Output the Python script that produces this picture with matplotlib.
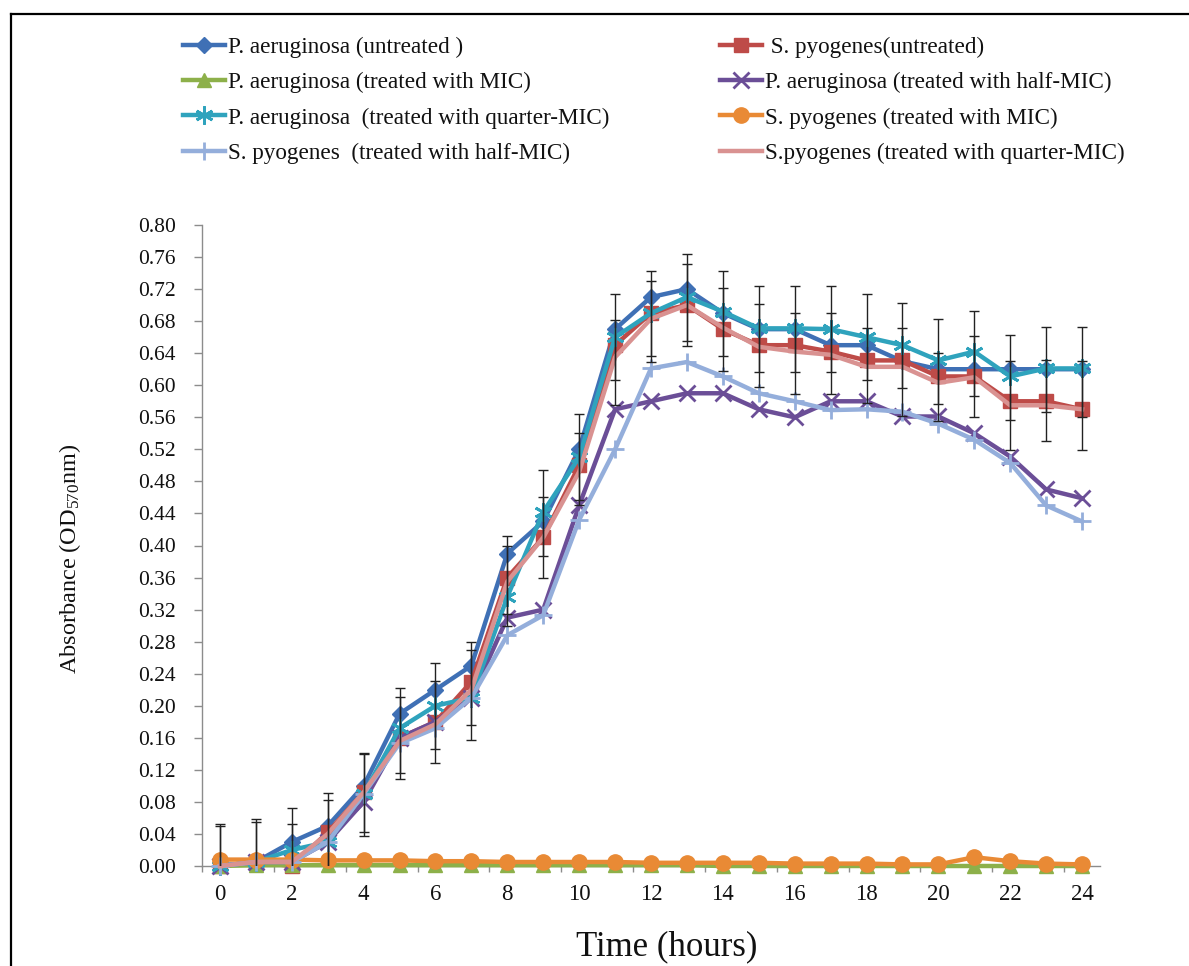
import matplotlib
matplotlib.use("Agg")
import matplotlib.pyplot as plt
from matplotlib.lines import Line2D
import numpy as np

plt.rcParams['font.family'] = ['Liberation Serif', 'DejaVu Serif']
plt.rcParams['mathtext.fontset'] = 'custom'
plt.rcParams['mathtext.rm'] = 'Liberation Serif'
plt.rcParams['mathtext.it'] = 'Liberation Serif:italic'

hours = list(range(25))
pa_untreated = [0.000, 0.005, 0.030, 0.050, 0.100, 0.190, 0.220, 0.250, 0.390, 0.430, 0.520, 0.670, 0.710,
                0.720, 0.690, 0.670, 0.670, 0.650, 0.650, 0.630, 0.620, 0.620, 0.620, 0.620, 0.620]
sp_untreated = [0.000, 0.005, 0.000, 0.042, 0.092, 0.160, 0.180, 0.230, 0.360, 0.410, 0.500, 0.650, 0.690,
                0.700, 0.670, 0.650, 0.650, 0.642, 0.631, 0.631, 0.611, 0.611, 0.580, 0.580, 0.570]
pa_mic = [0.000, 0.001, 0.001, 0.001, 0.001, 0.001, 0.001, 0.001, 0.001, 0.001, 0.001, 0.001, 0.001,
          0.001, 0.000, 0.000, 0.000, 0.000, 0.000, 0.000, 0.000, 0.000, 0.000, 0.000, 0.000]
pa_half = [0.000, 0.005, 0.005, 0.030, 0.080, 0.160, 0.180, 0.210, 0.310, 0.320, 0.450, 0.570, 0.580,
           0.590, 0.590, 0.570, 0.560, 0.580, 0.580, 0.561, 0.561, 0.540, 0.511, 0.470, 0.459]
pa_quarter = [0.000, 0.005, 0.020, 0.030, 0.090, 0.172, 0.200, 0.210, 0.336, 0.442, 0.510, 0.660, 0.690,
              0.710, 0.692, 0.671, 0.671, 0.670, 0.660, 0.650, 0.631, 0.642, 0.611, 0.621, 0.621]
sp_mic = [0.008, 0.008, 0.008, 0.007, 0.007, 0.007, 0.006, 0.006, 0.005, 0.005, 0.005, 0.005, 0.004,
          0.004, 0.004, 0.004, 0.003, 0.003, 0.003, 0.002, 0.002, 0.011, 0.006, 0.003, 0.002]
sp_half = [0.000, 0.005, 0.005, 0.030, 0.090, 0.153, 0.172, 0.210, 0.288, 0.313, 0.432, 0.520, 0.621,
           0.629, 0.611, 0.590, 0.580, 0.569, 0.570, 0.567, 0.552, 0.532, 0.503, 0.450, 0.430]
sp_quarter = [0.000, 0.005, 0.005, 0.040, 0.092, 0.156, 0.177, 0.220, 0.355, 0.410, 0.492, 0.635, 0.683,
              0.700, 0.672, 0.648, 0.642, 0.638, 0.623, 0.623, 0.603, 0.610, 0.575, 0.575, 0.570]

# error bars (lower / upper) for S. pyogenes untreated and S. pyogenes quarter-MIC
sp_untreated_err_lo = [0.053, 0.054, 0.073, 0.049, 0.055, 0.052, 0.051, 0.073, 0.060, 0.051, 0.050, 0.075,
                       0.061, 0.051, 0.052, 0.052, 0.061, 0.053, 0.053, 0.070, 0.056, 0.051, 0.061, 0.050,
                       0.051]
sp_untreated_err_hi = [0.053, 0.054, 0.073, 0.049, 0.049, 0.062, 0.073, 0.050, 0.052, 0.084, 0.064, 0.064,
                       0.053, 0.064, 0.073, 0.074, 0.074, 0.082, 0.083, 0.072, 0.072, 0.082, 0.083, 0.093,
                       0.103]
sp_quarter_err_lo = [0.050, 0.050, 0.047, 0.042, 0.050, 0.040, 0.031, 0.044, 0.040, 0.023, 0.035, 0.029,
                     0.047, 0.045, 0.036, 0.032, 0.026, 0.022, 0.017, 0.026, 0.026, 0.023, 0.018, 0.008,
                     0.010]
sp_quarter_err_hi = [0.050, 0.050, 0.047, 0.042, 0.048, 0.055, 0.054, 0.050, 0.045, 0.050, 0.048, 0.046,
                     0.047, 0.051, 0.049, 0.053, 0.048, 0.052, 0.048, 0.048, 0.037, 0.051, 0.055, 0.056,
                     0.060]

labels = ["P. aeruginosa (untreated )",
          " S. pyogenes(untreated)",
          "P. aeruginosa (treated with MIC)",
          "P. aeruginosa (treated with half-MIC)",
          "P. aeruginosa  (treated with quarter-MIC)",
          "S. pyogenes (treated with MIC)",
          "S. pyogenes  (treated with half-MIC)",
          "S.pyogenes (treated with quarter-MIC)"]

y_ticks = [0.00, 0.04, 0.08, 0.12, 0.16, 0.20, 0.24, 0.28, 0.32, 0.36, 0.40,
           0.44, 0.48, 0.52, 0.56, 0.60, 0.64, 0.68, 0.72, 0.76, 0.80]
x_tick_labels = ["0", "2", "4", "6", "8", "10", "12", "14", "16", "18", "20", "22", "24"]

W, H = 1189, 966
fig = plt.figure(figsize=(W / 100, H / 100), dpi=100)
fig.patch.set_facecolor('white')

ax_l, ax_r, ax_t, ax_b = 202, 1100, 225, 866
ax = fig.add_axes([ax_l / W, (H - ax_b) / H, (ax_r - ax_l) / W, (ax_b - ax_t) / H])

series = [
    dict(y=pa_untreated, color='#3F70B5', marker='D', ms=8.5, mew=1, mfc='#3F70B5'),
    dict(y=sp_untreated, color='#BE4B48', marker='s', ms=10.5, mew=1, mfc='#BE4B48'),
    dict(y=pa_mic, color='#8DB04A', marker='^', ms=10, mew=1, mfc='#8DB04A'),
    dict(y=pa_half, color='#6B4E97', marker='x', ms=11, mew=2, mfc='#6B4E97'),
    dict(y=pa_quarter, color='#2FA3BD', marker=(6, 2, 0), ms=13, mew=2, mfc='#2FA3BD'),
    dict(y=sp_mic, color='#E98A35', marker='o', ms=11, mew=1, mfc='#E98A35'),
    dict(y=sp_half, color='#94AEDB', marker='+', ms=13, mew=2, mfc='#94AEDB'),
    dict(y=sp_quarter, color='#D99291', marker=None, ms=0, mew=0, mfc='#D99291'),
]

handles = []
for i, s in enumerate(series):
    ln, = ax.plot(hours, s['y'], color=s['color'], lw=3.2, marker=s['marker'], ms=s['ms'],
                  mew=s['mew'], mfc=s['mfc'], mec=s['color'], clip_on=False, zorder=3 + i * 0.1,
                  label=labels[i])
    handles.append(ln)

ax.errorbar(hours, sp_untreated, yerr=[sp_untreated_err_lo, sp_untreated_err_hi], fmt='none',
            ecolor='#222222', elinewidth=1.0, capsize=3.8, capthick=1.0, zorder=5)
ax.errorbar(hours, sp_quarter, yerr=[sp_quarter_err_lo, sp_quarter_err_hi], fmt='none',
            ecolor='#222222', elinewidth=1.0, capsize=3.8, capthick=1.0, zorder=5)

ax.set_xlim(-0.5, 24.5)
ax.set_ylim(0, 0.80)
ax.set_yticks(y_ticks)
ax.set_yticklabels([f"{v:.2f}" for v in y_ticks])
ax.set_xticks(hours[::2])
ax.set_xticklabels(x_tick_labels)
ax.set_xticks(np.arange(-0.5, 24.0, 2), minor=True)

for side in ['top', 'right']:
    ax.spines[side].set_visible(False)
for side in ['left', 'bottom']:
    ax.spines[side].set_color('#8C8C8C')
    ax.spines[side].set_linewidth(1.0)

ax.tick_params(axis='y', which='major', direction='out', length=6, width=1, color='#8C8C8C',
               pad=13, labelsize=15.5, labelcolor='#111111')
ax.tick_params(axis='x', which='major', length=0, pad=13, labelsize=16.5, labelcolor='#111111')
ax.tick_params(axis='x', which='minor', direction='out', length=4, width=1, color='#8C8C8C')

ax.set_ylabel(r"Absorbance (OD$_{570}$nm)", fontsize=17.5, color='#111111')
ax.yaxis.set_label_coords(-0.1325, 0.479)
ax.set_xlabel("Time (hours)", fontsize=25, color='#111111')
ax.xaxis.set_label_coords(0.518, -0.100)

col1 = [handles[0], handles[2], handles[4], handles[6]]
col2 = [handles[1], handles[3], handles[5], handles[7]]
leg_kw = dict(frameon=False, fontsize=16.7, handlelength=1.8, handletextpad=0.12, labelspacing=0.6,
              borderpad=0, borderaxespad=0, loc='upper left')
leg1 = fig.legend(handles=col1, labels=[h.get_label() for h in col1],
                  bbox_to_anchor=(183 / W, 1 - 37 / H), **leg_kw)
leg2 = fig.legend(handles=col2, labels=[h.get_label() for h in col2],
                  bbox_to_anchor=(720 / W, 1 - 37 / H), **leg_kw)
for leg in (leg1, leg2):
    for t in leg.get_texts():
        t.set_color('#111111')

fig.add_artist(Line2D([11 / W, 11 / W], [0, 1 - 14 / H], color='black', lw=1.6,
                      transform=fig.transFigure))
fig.add_artist(Line2D([11 / W, 1], [1 - 14 / H, 1 - 14 / H], color='black', lw=1.6,
                      transform=fig.transFigure))

fig.savefig("out.png", dpi=100, facecolor='white')
